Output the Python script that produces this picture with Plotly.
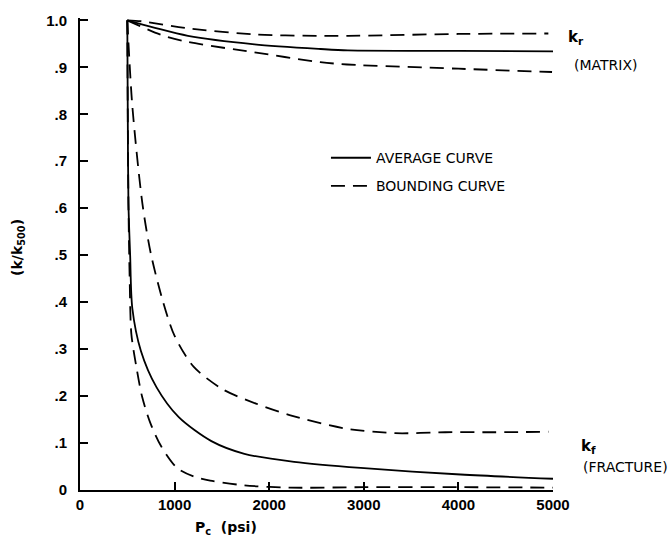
import plotly.graph_objects as go

# ---- data ----
x_tick_vals = [0, 1000, 2000, 3000, 4000, 5000]
x_tick_text = ["0", "1000", "2000", "3000", "4000", "5000"]
y_tick_vals = [0, 0.1, 0.2, 0.3, 0.4, 0.5, 0.6, 0.7, 0.8, 0.9, 1.0]
y_tick_text = ["0", ".1", ".2", ".3", ".4", ".5", ".6", ".7", ".8", ".9", "1.0"]

# matrix (k_r)
matrix_avg_p = [500, 792, 1141, 1844, 2544, 2832, 4000, 5000]
matrix_avg_k = [1.0, 0.984, 0.967, 0.949, 0.939, 0.936, 0.935, 0.934]
matrix_upper_p = [500, 652, 1144, 1848, 2548, 2834, 3999, 4951]
matrix_upper_k = [1.0, 0.998, 0.983, 0.970, 0.967, 0.967, 0.971, 0.972]
matrix_lower_p = [500, 859, 1139, 1841, 2539, 2824, 4000, 4990]
matrix_lower_k = [1.0, 0.969, 0.954, 0.932, 0.911, 0.906, 0.897, 0.890]

# fracture (k_f)
fracture_avg_p = [500, 505, 512, 530, 553, 644, 808, 1044, 1389, 1738, 2263, 2967, 4023, 5000]
fracture_avg_k = [1.0, 0.80, 0.61, 0.50, 0.387, 0.296, 0.219, 0.155, 0.104, 0.077, 0.060, 0.047, 0.033, 0.024]
fracture_upper_p = [500, 553, 660, 748, 872, 1000, 1203, 1513, 1860, 2244, 2804, 3332, 3861, 4390, 4954]
fracture_upper_k = [1.0, 0.818, 0.609, 0.504, 0.405, 0.328, 0.262, 0.214, 0.184, 0.158, 0.131, 0.121, 0.123, 0.123, 0.124]
fracture_lower_p = [500, 505, 512, 525, 543, 596, 656, 743, 858, 1026, 1200, 1376, 1733, 2219, 3000, 4000, 5000]
fracture_lower_k = [1.0, 0.80, 0.61, 0.45, 0.332, 0.262, 0.199, 0.143, 0.093, 0.047, 0.029, 0.020, 0.010, 0.005, 0.006, 0.006, 0.005]

LINE_W = 1.8
DASH = "14px,8px"
FONT = "DejaVu Sans"

fig = go.Figure()


def add(p, k, dash, name, group, show):
    fig.add_trace(go.Scatter(
        x=p, y=k, mode="lines",
        line=dict(color="black", width=LINE_W, dash=dash, shape="spline", smoothing=0.8),
        name=name, legendgroup=group, showlegend=show, hoverinfo="skip"))


add(matrix_avg_p, matrix_avg_k, "solid", "AVERAGE CURVE", "avg", True)
add(fracture_avg_p, fracture_avg_k, "solid", "AVERAGE CURVE", "avg", False)
add(matrix_upper_p, matrix_upper_k, DASH, "BOUNDING CURVE", "bound", True)
add(matrix_lower_p, matrix_lower_k, DASH, "BOUNDING CURVE", "bound", False)
add(fracture_upper_p, fracture_upper_k, DASH, "BOUNDING CURVE", "bound", False)
add(fracture_lower_p, fracture_lower_k, DASH, "BOUNDING CURVE", "bound", False)

axis_common = dict(
    showline=True, linecolor="black", linewidth=2,
    ticks="inside", ticklen=8, tickwidth=2, tickcolor="black",
    showgrid=False, zeroline=False,
    tickfont=dict(family="Liberation Sans", size=15, color="black", weight="bold"),
)

fig.update_xaxes(range=[0, 5000], tickvals=x_tick_vals, ticktext=x_tick_text, **axis_common)
fig.update_yaxes(range=[0, 1.005], tickvals=y_tick_vals, ticktext=y_tick_text,
                 ticklabelstandoff=8, **axis_common)

ann_font = dict(family=FONT, size=14, color="black")
fig.update_layout(
    width=668, height=544,
    margin=dict(l=80, r=115, t=12, b=54),
    paper_bgcolor="white", plot_bgcolor="white",
    showlegend=True,
    legend=dict(x=0.52, y=0.737, xanchor="left", yanchor="top",
                font=dict(family=FONT, size=14, color="black"),
                bgcolor="rgba(0,0,0,0)", tracegroupgap=7,
                traceorder="grouped", itemwidth=40),
    annotations=[
        dict(text="k<sub>r</sub>", x=1.028, y=0.958, xref="paper", yref="paper",
             xanchor="left", yanchor="middle", showarrow=False,
             font=dict(family=FONT, size=15, color="black", weight="bold")),
        dict(text="(MATRIX)", x=1.04, y=0.900, xref="paper", yref="paper",
             xanchor="left", yanchor="middle", showarrow=False, font=ann_font),
        dict(text="k<sub>f</sub>", x=1.055, y=0.092, xref="paper", yref="paper",
             xanchor="left", yanchor="middle", showarrow=False,
             font=dict(family=FONT, size=15, color="black", weight="bold")),
        dict(text="(FRACTURE)", x=1.06, y=0.048, xref="paper", yref="paper",
             xanchor="left", yanchor="middle", showarrow=False, font=ann_font),
        dict(text="(k/k<sub>500</sub>)", x=-0.131, y=0.513, xref="paper", yref="paper",
             xanchor="center", yanchor="middle", textangle=-90, showarrow=False,
             font=dict(family=FONT, size=14, color="black", weight="bold")),
        dict(text="P<sub>c</sub>  (psi)", x=0.309, y=-0.08, xref="paper", yref="paper",
             xanchor="center", yanchor="middle", showarrow=False,
             font=dict(family=FONT, size=14, color="black", weight="bold")),
    ],
)

fig.write_html("out.html")
